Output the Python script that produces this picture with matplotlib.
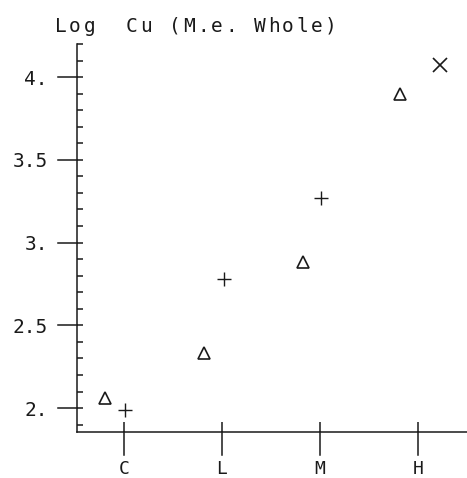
import numpy as np
import matplotlib
matplotlib.use("Agg")
import matplotlib.pyplot as plt
import matplotlib.transforms as mtransforms
from matplotlib.ticker import MultipleLocator

# data
categories = ["C", "L", "M", "H"]
tri_x = [0.81, 1.82, 2.83, 3.82]
tri_y = [2.06, 2.33, 2.88, 3.90]
plus_x = [1.01, 2.02, 3.01]
plus_y = [1.99, 2.78, 3.27]
cross_x = [4.22]
cross_y = [4.07]
y_ticks = [2.0, 2.5, 3.0, 3.5, 4.0]
y_labels = ["2.", "2.5", "3.", "3.5", "4."]
title = "Log  Cu (M.e. Whole)"

font = "DejaVu Sans Mono"
ink = "#1a1a1a"
W, H = 467, 478

fig = plt.figure(figsize=(W / 100, H / 100), dpi=100)
ax_w, ax_h = 0.835, 0.812
ax = fig.add_axes([0.165, 0.096, ax_w, ax_h])

ax.plot(tri_x, tri_y, linestyle="none", marker="^", markersize=8,
        markerfacecolor="none", markeredgecolor=ink, markeredgewidth=1.2)
ax.plot(plus_x, plus_y, linestyle="none", marker="+", markersize=10,
        color=ink, markeredgewidth=1.0)
ax.plot(cross_x, cross_y, linestyle="none", marker="x", markersize=10,
        color=ink, markeredgewidth=1.2)

ax.set_xlim(0.52, 4.5)
ax.set_ylim(1.855, 4.2)

for s in ["top", "right"]:
    ax.spines[s].set_visible(False)
for s in ["left", "bottom"]:
    ax.spines[s].set_linewidth(1.1)
    ax.spines[s].set_color(ink)

# ticks: short part inside via tick_params, long outside part drawn as lines
ax.set_xticks(range(1, len(categories) + 1))
ax.set_xticklabels(categories, fontfamily=font, fontsize=13, color=ink)
ax.tick_params(axis="x", direction="in", length=7, width=1.1, color=ink, pad=20)

ax.set_yticks(y_ticks)
ax.set_yticklabels(y_labels, fontfamily=font, fontsize=14, color=ink)
ax.yaxis.set_minor_locator(MultipleLocator(0.1))
ax.tick_params(axis="y", which="major", direction="in", length=4, width=1.1,
               color=ink, pad=21)
ax.tick_params(axis="y", which="minor", direction="in", length=4, width=1.1, color=ink)

out_x = 23 / (ax_h * H)
out_y = 19 / (ax_w * W)
tx = mtransforms.blended_transform_factory(ax.transData, ax.transAxes)
for xv in ax.get_xticks():
    ax.plot([xv, xv], [0, -out_x], transform=tx, color=ink, lw=1.1, clip_on=False)
ty = mtransforms.blended_transform_factory(ax.transAxes, ax.transData)
for yv in y_ticks:
    ax.plot([0, -out_y], [yv, yv], transform=ty, color=ink, lw=1.1, clip_on=False)

# title drawn with wide plotter-like letter spacing
x0, step = 55, 14.2
for i, ch in enumerate(title):
    fig.text((x0 + i * step) / W, 1 - 32 / H, ch, fontfamily=font, fontsize=14,
             color=ink, ha="left", va="baseline")

fig.savefig("out.png", dpi=100)
